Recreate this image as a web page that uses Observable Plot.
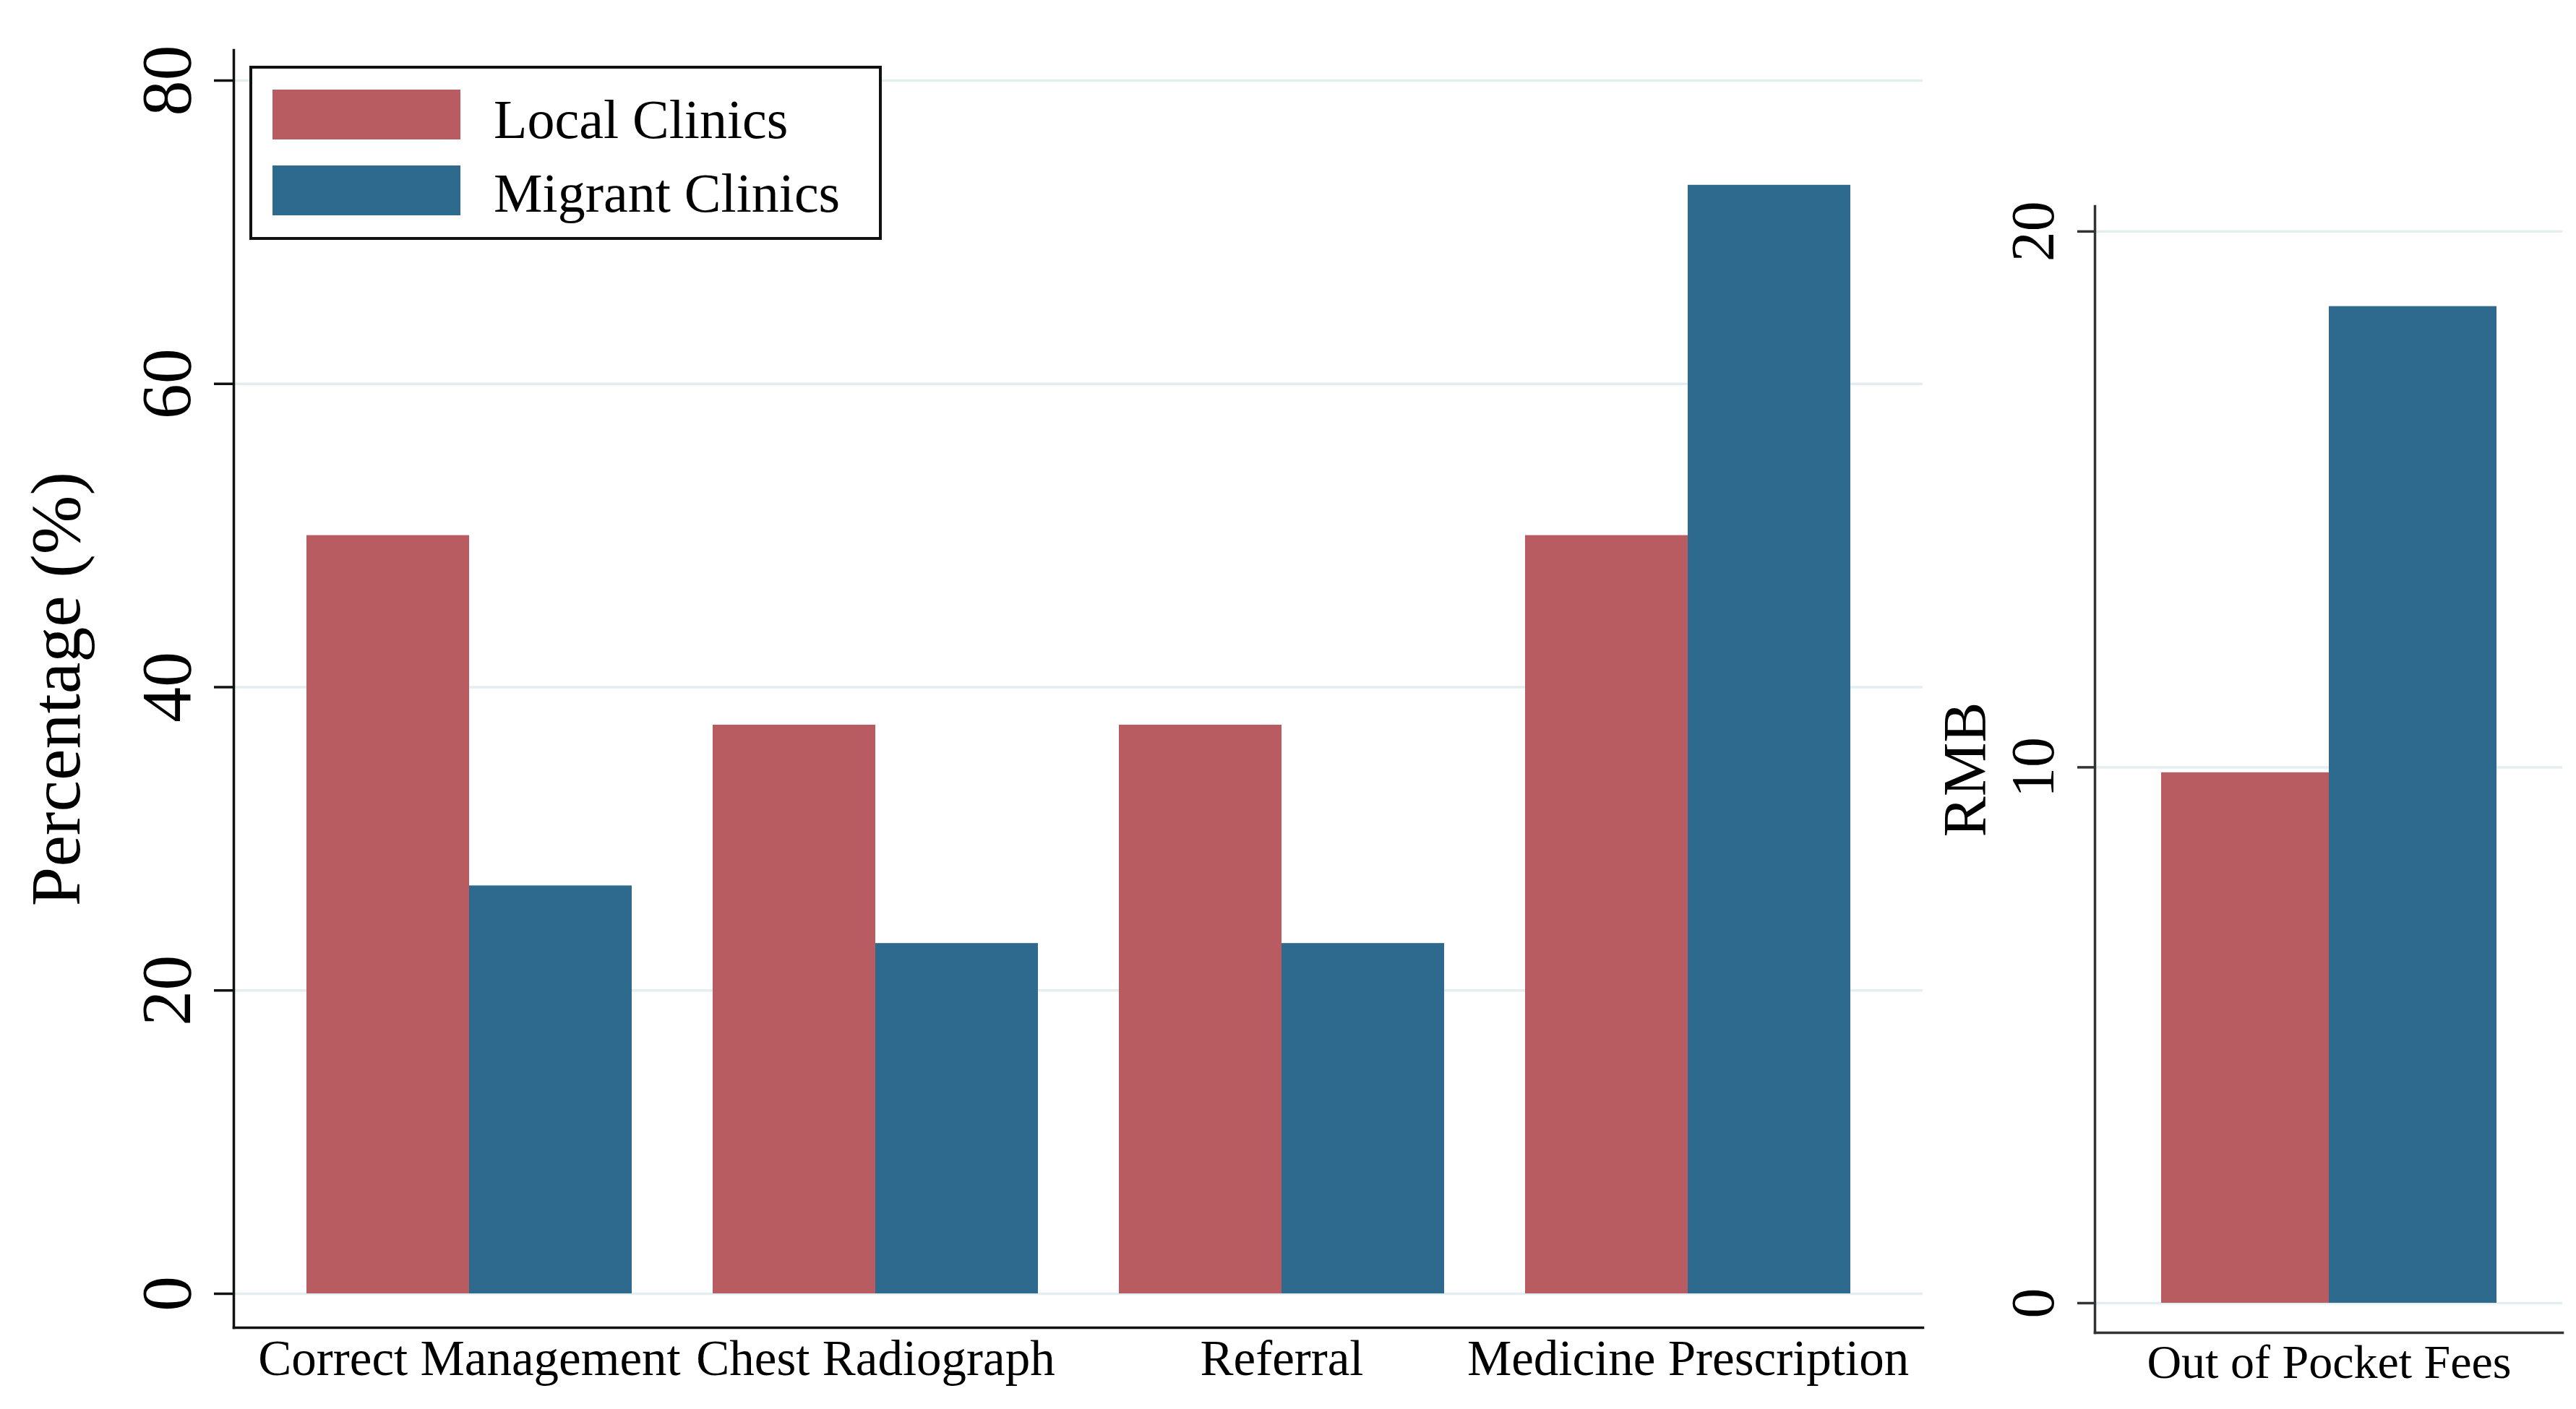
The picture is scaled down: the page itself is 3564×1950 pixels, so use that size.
<!DOCTYPE html>
<html>
<head>
<meta charset="utf-8">
<script src="https://cdn.jsdelivr.net/npm/d3@7"></script>
<script src="https://cdn.jsdelivr.net/npm/@observablehq/plot@0.6"></script>
<style>
  html, body { margin: 0; padding: 0; background: #fff; }
  #wrap { position: relative; width: 3564px; height: 1950px; background: #fff; overflow: hidden;
          font-family: "Liberation Serif", "Times New Roman", serif; }
  .layer { position: absolute; top: 0; }
  .layer svg { display: block; }
  #legend { position: absolute; left: 345px; top: 91px; width: 875px; height: 241px;
            box-sizing: border-box; border: 4px solid #111; background: #fff; }
  .sw { position: absolute; left: 28px; width: 260px; height: 69px; }
  .lt { position: absolute; left: 334px; font-size: 76px; line-height: 76px; color: #000; white-space: nowrap; }
</style>
</head>
<body>
<div id="wrap">
  <div id="leftAxes" class="layer" style="left:0px"></div>
  <div id="leftBars" class="layer" style="left:0px"></div>
  <div id="rightAxes" class="layer" style="left:2680px"></div>
  <div id="rightBars" class="layer" style="left:2680px"></div>
  <div id="legend"></div>
</div>
<script>
// ---- data ----
const categories = ["Correct Management", "Chest Radiograph", "Referral", "Medicine Prescription"];
const localValues = [50, 37.5, 37.5, 50];
const migrantValues = [26.9, 23.1, 23.1, 73.1];
const series = ["Local Clinics", "Migrant Clinics"];
const seriesColors = ["#b95c62", "#2d6a8e"];
const pctTicks = [0, 20, 40, 60, 80];

const feeCategories = ["Out of Pocket Fees"];
const feeLocal = [9.9];
const feeMigrant = [18.6];
const rmbTicks = [0, 10, 20];

const pctData = categories.flatMap((c, i) => [
  {category: c, series: series[0], value: localValues[i]},
  {category: c, series: series[1], value: migrantValues[i]}
]);
const feeData = feeCategories.flatMap((c, i) => [
  {category: c, series: series[0], value: feeLocal[i]},
  {category: c, series: series[1], value: feeMigrant[i]}
]);

const font = "Liberation Serif, Times New Roman, serif";
const gridColor = "#e3eef1";

// shared geometry for each panel (axes layer + bars layer)
const leftDims = {width: 2700, height: 1950, marginLeft: 323, marginRight: 40, marginTop: 69, marginBottom: 113};
const leftBand = {paddingInner: 0.2, paddingOuter: 0.177, align: 0.5};
const leftY = [-2.24, 82.0];

const rightDims = {width: 884, height: 1950, marginLeft: 218, marginRight: 19, marginTop: 285, marginBottom: 106};
const rightBand = {paddingInner: 0, paddingOuter: 0.197, align: 0.5};
const rightY = [-0.553, 20.47];

function axesLayer(dims, band, cats, ydom, ticks, label, tickFont, tickLen, labelOffset, axisColor, catFont) {
  return Plot.plot({
    ...dims,
    style: {fontFamily: font, background: "transparent", color: "#000", overflow: "visible"},
    x: {type: "band", domain: cats, ...band, label: null},
    y: {domain: ydom},
    marks: [
      Plot.ruleY(ticks, {stroke: gridColor, strokeWidth: 3.5}),
      Plot.frame({anchor: "left", stroke: axisColor, strokeWidth: 3.5}),
      Plot.frame({anchor: "bottom", stroke: axisColor, strokeWidth: 3.5}),
      Plot.axisY(ticks, {anchor: "left", tickSize: tickLen, tickPadding: 34, tickRotate: -90,
        tickFormat: (d) => String(d),
        fontSize: tickFont, stroke: axisColor, strokeWidth: 3.5,
        label, labelAnchor: "center", labelArrow: "none", labelOffset}),
      Plot.axisX({anchor: "bottom", tickSize: 0, tickPadding: 16, fontSize: catFont, label: null})
    ]
  });
}

function barsLayer(dims, band, cats, ydom, data) {
  return Plot.plot({
    ...dims,
    style: {fontFamily: font, background: "transparent", overflow: "visible"},
    fx: {domain: cats, ...band, label: null, axis: null},
    x: {domain: series, padding: 0, axis: null},
    y: {domain: ydom, axis: null},
    color: {domain: series, range: seriesColors},
    marks: [
      Plot.barY(data, {fx: "category", x: "series", y1: 0, y2: "value", fill: "series"})
    ]
  });
}

document.getElementById("leftAxes").appendChild(
  axesLayer(leftDims, leftBand, categories, leftY, pctTicks, "Percentage (%)", 98, 27, 283, "#111", 69));
document.getElementById("leftBars").appendChild(
  barsLayer(leftDims, leftBand, categories, leftY, pctData));
document.getElementById("rightAxes").appendChild(
  axesLayer(rightDims, rightBand, feeCategories, rightY, rmbTicks, "RMB", 84, 24, 211, "#333", 66));
document.getElementById("rightBars").appendChild(
  barsLayer(rightDims, rightBand, feeCategories, rightY, feeData));

// ---- legend (HTML, inside the left panel) ----
const legend = document.getElementById("legend");
const swatchTops = [29, 134];
const textTops = [32, 134];
series.forEach((s, i) => {
  const sw = document.createElement("div");
  sw.className = "sw";
  sw.style.top = swatchTops[i] + "px";
  sw.style.background = seriesColors[i];
  legend.appendChild(sw);
  const t = document.createElement("div");
  t.className = "lt";
  t.style.top = textTops[i] + "px";
  t.textContent = s;
  legend.appendChild(t);
});
</script>
</body>
</html>
